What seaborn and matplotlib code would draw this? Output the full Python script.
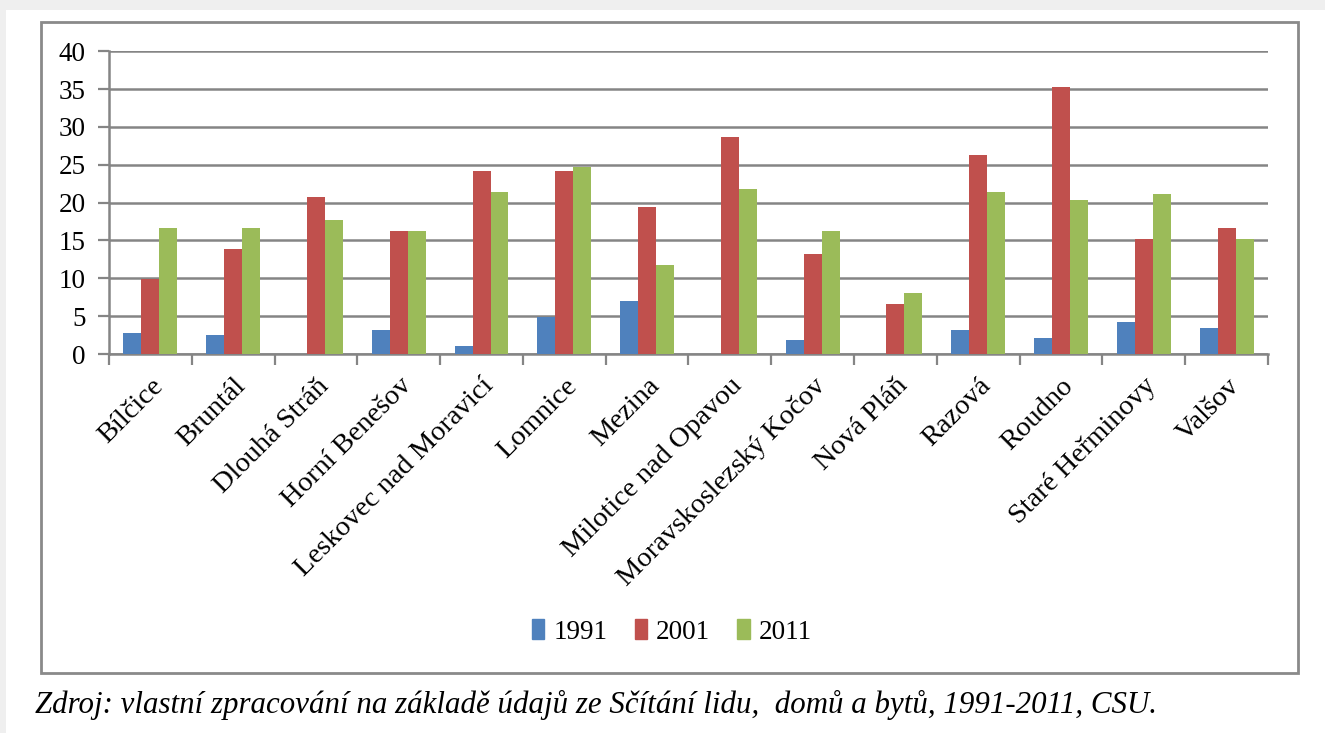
import matplotlib.pyplot as plt
import matplotlib.patches as mpatches
import numpy as np
import pandas as pd
import seaborn as sns

# data
obce = ['Bílčice', 'Bruntál', 'Dlouhá Stráň', 'Horní Benešov', 'Leskovec nad Moravicí',
        'Lomnice', 'Mezina', 'Milotice nad Opavou', 'Moravskoslezský Kočov', 'Nová Pláň',
        'Razová', 'Roudno', 'Staré Heřminovy', 'Valšov']
roky = ['1991', '2001', '2011']
h1991 = [2.8, 2.5, 0, 3.2, 1.1, 4.9, 7.0, 0, 1.8, 0, 3.2, 2.1, 4.2, 3.5]
h2001 = [9.9, 13.9, 20.8, 16.3, 24.2, 24.2, 19.4, 28.7, 13.2, 6.6, 26.3, 35.3, 15.2, 16.7]
h2011 = [16.7, 16.7, 17.7, 16.3, 21.4, 24.7, 11.8, 21.8, 16.3, 8.0, 21.4, 20.4, 21.1, 15.2]
barvy = ['#4F81BD', '#C0504D', '#9BBB59']
popisek = 'Zdroj: vlastní zpracování na základě údajů ze Sčítání lidu,  domů a bytů, 1991-2011, CSU.'

df = pd.DataFrame({
    'obec': obce * 3,
    'rok': [r for r in roky for _ in obce],
    'hodnota': h1991 + h2001 + h2011,
})

sns.set_style('white')
plt.rcParams['font.family'] = ['Liberation Serif', 'DejaVu Serif']
plt.rcParams['text.color'] = 'black'
plt.rcParams['xtick.color'] = 'black'
plt.rcParams['ytick.color'] = 'black'

W, H = 1325, 733
fig = plt.figure(figsize=(W / 100, H / 100), dpi=100)
fig.patch.set_facecolor('white')

# page background bits and chart frame
fig.add_artist(mpatches.Rectangle((0, 1 - 10 / H), 1, 10 / H, transform=fig.transFigure,
                                  facecolor='#efefef', edgecolor='none', zorder=0))
fig.add_artist(mpatches.Rectangle((0, 0), 6 / W, 1, transform=fig.transFigure,
                                  facecolor='#efefef', edgecolor='none', zorder=0))
fig.add_artist(mpatches.Rectangle((41 / W, 1 - 673 / H), (1298 - 41) / W, (673 - 22) / H,
                                  transform=fig.transFigure, facecolor='white',
                                  edgecolor='#8a8a8a', linewidth=2, zorder=1))

ax = fig.add_axes([109 / W, 1 - 354 / H, (1268 - 109) / W, (354 - 51.3) / H])
ax.set_zorder(2)
sns.barplot(data=df, x='obec', y='hodnota', hue='rok', palette=barvy, saturation=1,
            width=0.65, gap=0, linewidth=0, ax=ax, legend=False, zorder=3)

ax.set_ylim(0, 40)
ax.set_xlim(-0.5, len(obce) - 0.5)
ax.set_yticks(np.arange(0, 41, 5))
ax.yaxis.grid(True, color='#858585', linewidth=1.8)
ax.set_axisbelow(True)
ax.set_xlabel('')
ax.set_ylabel('')
for s in ['top', 'right']:
    ax.spines[s].set_visible(False)
for s in ['left', 'bottom']:
    ax.spines[s].set_color('#858585')
    ax.spines[s].set_linewidth(1.8)

ax.tick_params(axis='y', left=True, length=8, width=1.6, color='#858585', pad=9,
               labelsize=19.5)
ax.set_xticks(range(len(obce)))
ax.set_xticklabels(obce, rotation=45, ha='right', rotation_mode='anchor', fontsize=20.5)
ax.tick_params(axis='x', which='major', length=0, pad=14)
ax.set_xticks(np.arange(-0.5, len(obce), 1), minor=True)
ax.tick_params(axis='x', which='minor', bottom=True, length=8, width=1.6, color='#858585')

handles = [mpatches.Patch(color=c, label=r) for c, r in zip(barvy, roky)]
fig.legend(handles=handles, loc='center', bbox_to_anchor=(672 / W, 1 - 632 / H), ncol=3,
           frameon=False, fontsize=19.5, handlelength=0.45, handleheight=0.75,
           handletextpad=0.35, columnspacing=1.0)

fig.text(35 / W, 1 - 705 / H, popisek, ha='left', va='center', fontsize=22.2, style='italic')

fig.savefig('out.png', dpi=100)
